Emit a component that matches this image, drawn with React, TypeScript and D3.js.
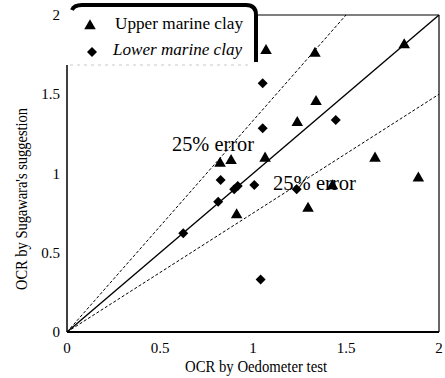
import React from "react";
import * as d3 from "d3";

const upperX = [1.07, 1.333, 1.813, 1.339, 1.238, 0.823, 0.882, 1.065, 1.656, 1.889, 1.427, 0.912, 1.296];
const upperY = [1.775, 1.758, 1.811, 1.453, 1.321, 1.064, 1.081, 1.096, 1.096, 0.97, 0.921, 0.738, 0.78];
const lowerX = [1.052, 1.052, 1.445, 0.826, 0.899, 0.918, 1.007, 1.235, 0.813, 0.625, 1.041];
const lowerY = [1.569, 1.285, 1.338, 0.959, 0.9, 0.921, 0.927, 0.9, 0.822, 0.623, 0.332];
const xTicks = [0, 0.5, 1, 1.5, 2];
const yTicks = [0, 0.5, 1, 1.5, 2];
const seriesNames = ["Upper marine clay", "Lower marine clay"];
const errorLabel = "25% error";

const W = 445, H = 378;
const FS = { fontFamily: "Liberation Serif" };

export default function App() {
  const x = d3.scaleLinear().domain([0, 2]).range([67, 439]);
  const y = d3.scaleLinear().domain([0, 2]).range([332, 15]);
  const tri = d3.symbol().type(d3.symbolTriangle).size(58)()!;
  const dia = d3.symbol().type(d3.symbolSquare).size(50)()!;
  const line = d3.line<[number, number]>().x(d => x(d[0])).y(d => y(d[1]));

  return (
    <div style={{ position: "absolute", left: 0, top: 0 }}>
      <svg width={W} height={H} style={{ display: "block", background: "#fff" }}>
        <rect width={W} height={H} fill="#fff" />
        {/* frame */}
        <line x1={x(0)} x2={x(2)} y1={y(0)} y2={y(0)} stroke="#000" strokeWidth={2} />
        <line x1={x(2)} x2={x(2)} y1={y(0)} y2={y(2)} stroke="#000" strokeWidth={1.2} />
        <line x1={258} x2={x(2)} y1={y(2)} y2={y(2)} stroke="#000" strokeWidth={1.2} />
        <line x1={x(0)} x2={x(0)} y1={65} y2={y(0)} stroke="#000" strokeWidth={1.5} />
        {/* reference lines */}
        <path d={line([[0, 0], [2, 2]])!} stroke="#000" strokeWidth={1.4} fill="none" />
        <path d={line([[0, 0], [1.5, 2]])!} stroke="#000" strokeWidth={1} strokeDasharray="3,2" fill="none" />
        <path d={line([[0, 0], [2, 1.5]])!} stroke="#000" strokeWidth={1} strokeDasharray="3,2" fill="none" />
        {/* points */}
        {upperX.map((v, i) => (
          <path key={"u" + i} d={tri} transform={`translate(${x(v)},${y(upperY[i])})`} fill="#000" />
        ))}
        {lowerX.map((v, i) => (
          <path key={"l" + i} d={dia} transform={`translate(${x(v)},${y(lowerY[i])}) rotate(45)`} fill="#000" />
        ))}
        {/* error labels */}
        <text x={172} y={151} fontSize={20} fill="#000" style={FS} textLength={82} lengthAdjust="spacingAndGlyphs">{errorLabel}</text>
        <text x={273} y={190} fontSize={20} fill="#000" style={FS} textLength={83} lengthAdjust="spacingAndGlyphs">{errorLabel}</text>
        {/* tick labels */}
        {xTicks.map(t => (
          <text key={"xt" + t} x={x(t)} y={353} fontSize={15} textAnchor="middle" style={FS}>{t}</text>
        ))}
        {yTicks.map(t => (
          <text key={"yt" + t} x={60} y={y(t) + 5} fontSize={15} textAnchor="end" style={FS}>{t}</text>
        ))}
        {/* axis titles */}
        <text x={185} y={372} fontSize={16} style={FS} textLength={142} lengthAdjust="spacingAndGlyphs">OCR by Oedometer test</text>
        <text transform={`translate(27,290) rotate(-90)`} fontSize={16} style={FS} textLength={182} lengthAdjust="spacingAndGlyphs">OCR by Sugawara's suggestion</text>
        {/* legend */}
        <g>
          <rect x={70} y={5} width={186} height={59} fill="#fff" />
          <path d="M72,10 Q74,5 82,5 L246,5 Q256,5 256,15 L256,62" fill="none" stroke="#000" strokeWidth={4} />
          <line x1={70} x2={250} y1={65} y2={65} stroke="#bbb" strokeWidth={0.8} strokeDasharray="3,4" />
          <path d={tri} transform="translate(90,26)" fill="#000" />
          <text x={115} y={29} fontSize={16} style={FS} textLength={128} lengthAdjust="spacingAndGlyphs">{seriesNames[0]}</text>
          <path d={dia} transform="translate(92,52) rotate(45)" fill="#000" />
          <text x={113} y={55} fontSize={16} fontStyle="italic" style={FS} textLength={129} lengthAdjust="spacingAndGlyphs">{seriesNames[1]}</text>
        </g>
      </svg>
    </div>
  );
}
